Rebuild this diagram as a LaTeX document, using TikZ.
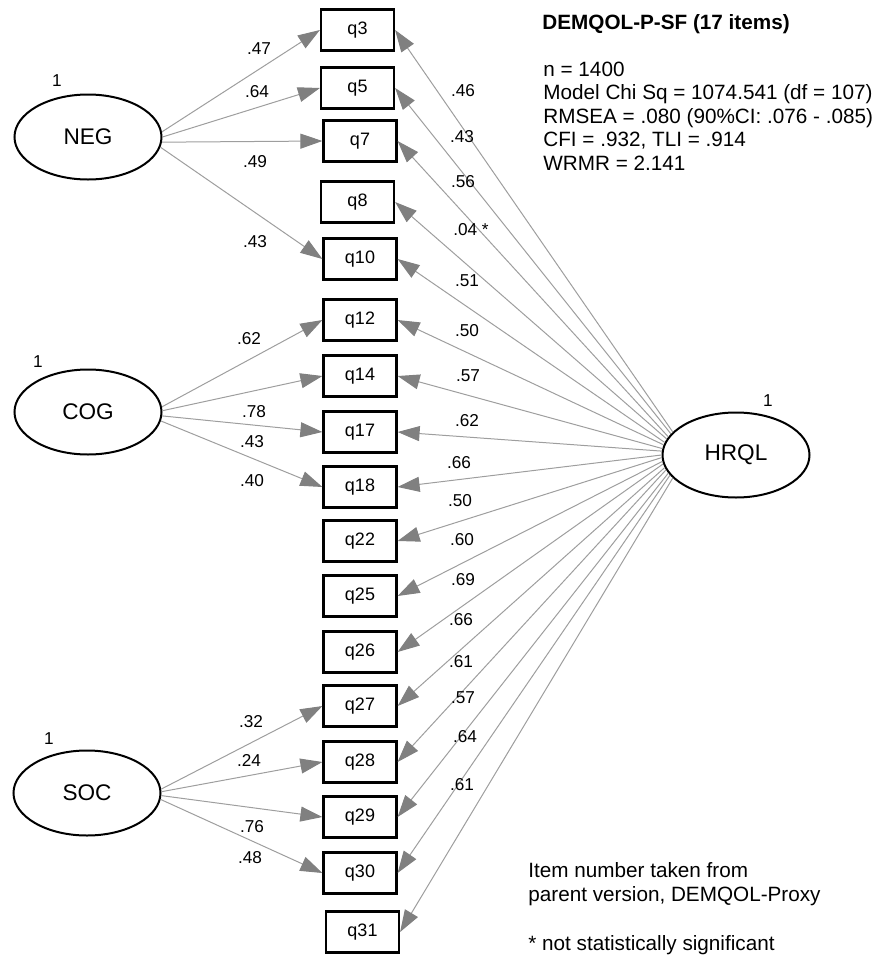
\documentclass[tikz,border=0pt]{standalone}
\usepackage{fontspec}
\setmainfont{Liberation Sans}
\usetikzlibrary{arrows.meta,shapes.geometric}

\definecolor{linegray}{gray}{0.62}
\definecolor{tipgray}{gray}{0.5}

\tikzset{
    item/.style={draw,line width=1.1pt,minimum width=36.5pt,minimum height=20.5pt,inner sep=0pt,font=\fontsize{9}{10}\selectfont},
    factor/.style={draw,ellipse,line width=1pt,minimum width=73.5pt,minimum height=42.5pt,inner sep=0pt,font=\fontsize{11.3}{13}\selectfont},
    load/.style={draw=linegray,line width=0.5pt,-{Triangle[length=11pt,width=7.5pt,color=tipgray]}},
    coef/.style={inner sep=0pt,font=\fontsize{8.6}{10}\selectfont},
    txt/.style={anchor=west,align=left,inner sep=0pt,font=\fontsize{10.35}{11.75}\selectfont},
}

\begin{document}
\begin{tikzpicture}[x=0.5pt,y=-0.5pt]
    \useasboundingbox (0,0) rectangle (880,959);
    % observed items
    \foreach \q/\x/\y in {3/357.5/30,5/357.5/88,7/360/141,8/357.5/202,10/360/259,
        12/360/320,14/360/376,17/360/432,18/360/487,22/360/541,25/360/596,
        26/360/652,27/360/706,28/360/762,29/360/817,30/360/873,31/362.5/932}
        \node[item] (q\q) at (\x,\y) {q\q};
    % latent factors
    \node[factor] (NEG) at (88,137) {NEG};
    \node[factor] (COG) at (88,412) {COG};
    \node[factor] (SOC) at (87,793) {SOC};
    \node[factor] (HRQL) at (736,455) {HRQL};
    \foreach \f/\lx/\ly in {NEG/57/81,COG/38/362,SOC/49/739,HRQL/768/401}
        \node[coef] (var\f) at (\lx,\ly) {1};
    % domain loadings
    \foreach \f/\q/\a/\lx/\ly/\v in {NEG/3/4/259/49/.47,NEG/5/0/257/92/.64,
        NEG/7/-4/255/162/.49,NEG/10/-8/255/242/.43,
        COG/12/4/249/339/.62,COG/14/1/254/412/.78,COG/17/-3/252/442/.43,COG/18/-7/252/481/.40,
        SOC/27/3/251/722/.32,SOC/28/1/249/760/.24,SOC/29/-2/252/827/.76,SOC/30/-5/250/858/.48} {
        \draw[load] (\f.\a) -- (q\q.west);
        \node[coef] (lam\f\q) at (\lx,\ly) {\v};
    }
    % general factor loadings
    \foreach \q/\lx/\ly/\v [count=\i from 0] in {3/463/91/.46,5/462/137/.43,7/463/182/.56,
        8/471/230/{.04 *},10/467/281/.51,12/467/331/.50,14/468/376/.57,17/467/421/.62,
        18/459/463/.66,22/460/501/.50,25/462/540/.60,26/463/580/.69,27/461/620/.66,
        28/461/662/.61,29/463/698/.57,30/465/737/.64,31/462/785/.61} {
        \pgfmathsetmacro\ang{160+2.5*\i}
        \draw[load] (HRQL.\ang) -- (q\q.east);
        \node[coef] (gen\q) at (\lx,\ly) {\v};
    }
    % fit statistics and notes
    \node[txt,font=\bfseries\fontsize{10.35}{11.75}\selectfont] (title) at (542,24) {DEMQOL-P-SF (17 items)};
    \node[txt] (stats) at (543,116) {n = 1400\\Model Chi Sq = 1074.541 (df = 107)\\RMSEA = .080 (90\%CI: .076 - .085)\\CFI = .932, TLI = .914\\WRMR = 2.141};
    \node[txt] (note) at (528,884) {Item number taken from\\parent version, DEMQOL-Proxy};
    \node[txt] (signote) at (528,945) {* not statistically significant};
\end{tikzpicture}
\end{document}
